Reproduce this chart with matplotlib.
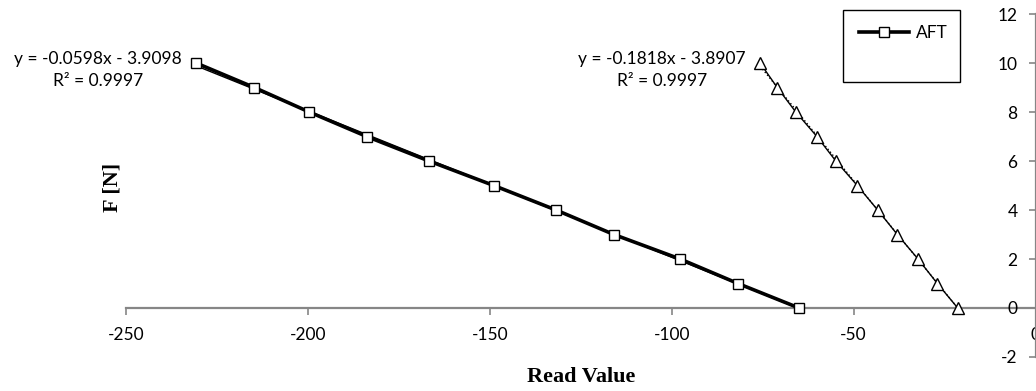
import numpy as np
import matplotlib.pyplot as plt
from matplotlib.patches import Rectangle

plt.rcParams['axes.unicode_minus'] = False

# calibration points: force vs. raw reading
force = [10, 9, 8, 7, 6, 5, 4, 3, 2, 1, 0]
read_aft = [-230.7, -214.7, -199.6, -183.8, -166.7, -148.9, -131.8, -115.9, -97.7, -81.8, -65.0]
read_fwd = [-75.7, -71.0, -65.9, -60.1, -54.9, -49.0, -43.4, -38.0, -32.3, -27.0, -21.4]

# linear fits (slope, intercept, R^2)
fit_aft = (-0.0598, -3.9098, 0.9997)
fit_fwd = (-0.1818, -3.8907, 0.9997)

xticks = [-250, -200, -150, -100, -50, 0]
yticks = [-2, 0, 2, 4, 6, 8, 10, 12]

tick_font = 'Lato'
gray = '#868686'

fig = plt.figure(figsize=(10.36, 3.91), dpi=100)
ax = fig.add_axes([0.1216, 0.087, 0.878, 0.877])

ax.plot(read_aft, force, color='black', lw=2.6, marker='s', ms=7.5,
        mfc='white', mec='black', mew=1.0, label='AFT', zorder=3)
ax.plot(read_fwd, force, color='black', lw=1.0, marker='^', ms=8,
        mfc='white', mec='black', mew=1.0, zorder=3)

# trendlines over each data range
for xs, (m, b, r2), ls in [(read_aft, fit_aft, '-'), (read_fwd, fit_fwd, ':')]:
    xx = np.array([min(xs), max(xs)])
    ax.plot(xx, m * xx + b, color='black', lw=1.0, ls=ls, zorder=2)

    sign = '-' if b < 0 else '+'
    label = f'y = {m:.4f}x {sign} {abs(b):.4f}\nR² = {r2:.4f}'
    ax.text(min(xs) - 4, 9.7, label, ha='right', va='center', multialignment='center',
            fontsize=12.5, family=tick_font, linespacing=1.45)

ax.set_xlim(-250, 0)
ax.set_ylim(-2, 12)
ax.set_xticks(xticks)
ax.set_yticks(yticks)

ax.spines['top'].set_visible(False)
ax.spines['right'].set_visible(False)
ax.spines['bottom'].set_position(('data', 0))
ax.spines['left'].set_position(('data', 0))
for s in ('bottom', 'left'):
    ax.spines[s].set_color(gray)
    ax.spines[s].set_linewidth(1.6)
ax.spines['bottom'].set_zorder(1)

ax.tick_params(axis='x', direction='out', length=5, width=1.2, color=gray, pad=9,
               labelsize=12.5)
ax.tick_params(axis='y', direction='out', length=5, width=1.2, color=gray, pad=8,
               labelsize=12.5)
for lab in ax.get_xticklabels() + ax.get_yticklabels():
    lab.set_family(tick_font)

fig.text(0.5608, 1 - 377 / 391, 'Read Value', ha='center', va='center',
         family='Liberation Serif', weight='bold', fontsize=16)
fig.text(113 / 1036, 1 - 187 / 391, 'F [N]', rotation=90, ha='center', va='center',
         family='Liberation Serif', weight='bold', fontsize=16)

# legend box
fig.patches.append(Rectangle((843 / 1036, 1 - 82 / 391), 117 / 1036, 72 / 391,
                             transform=fig.transFigure, fill=False,
                             edgecolor='black', lw=1.0))
ax.legend(loc='center left', bbox_to_anchor=(859 / 1036, 1 - 33 / 391),
          bbox_transform=fig.transFigure, prop={'family': tick_font, 'size': 12.5},
          frameon=False, handlelength=2.9, handletextpad=0.4,
          borderpad=0, borderaxespad=0)

fig.savefig('out.png', dpi=100)
